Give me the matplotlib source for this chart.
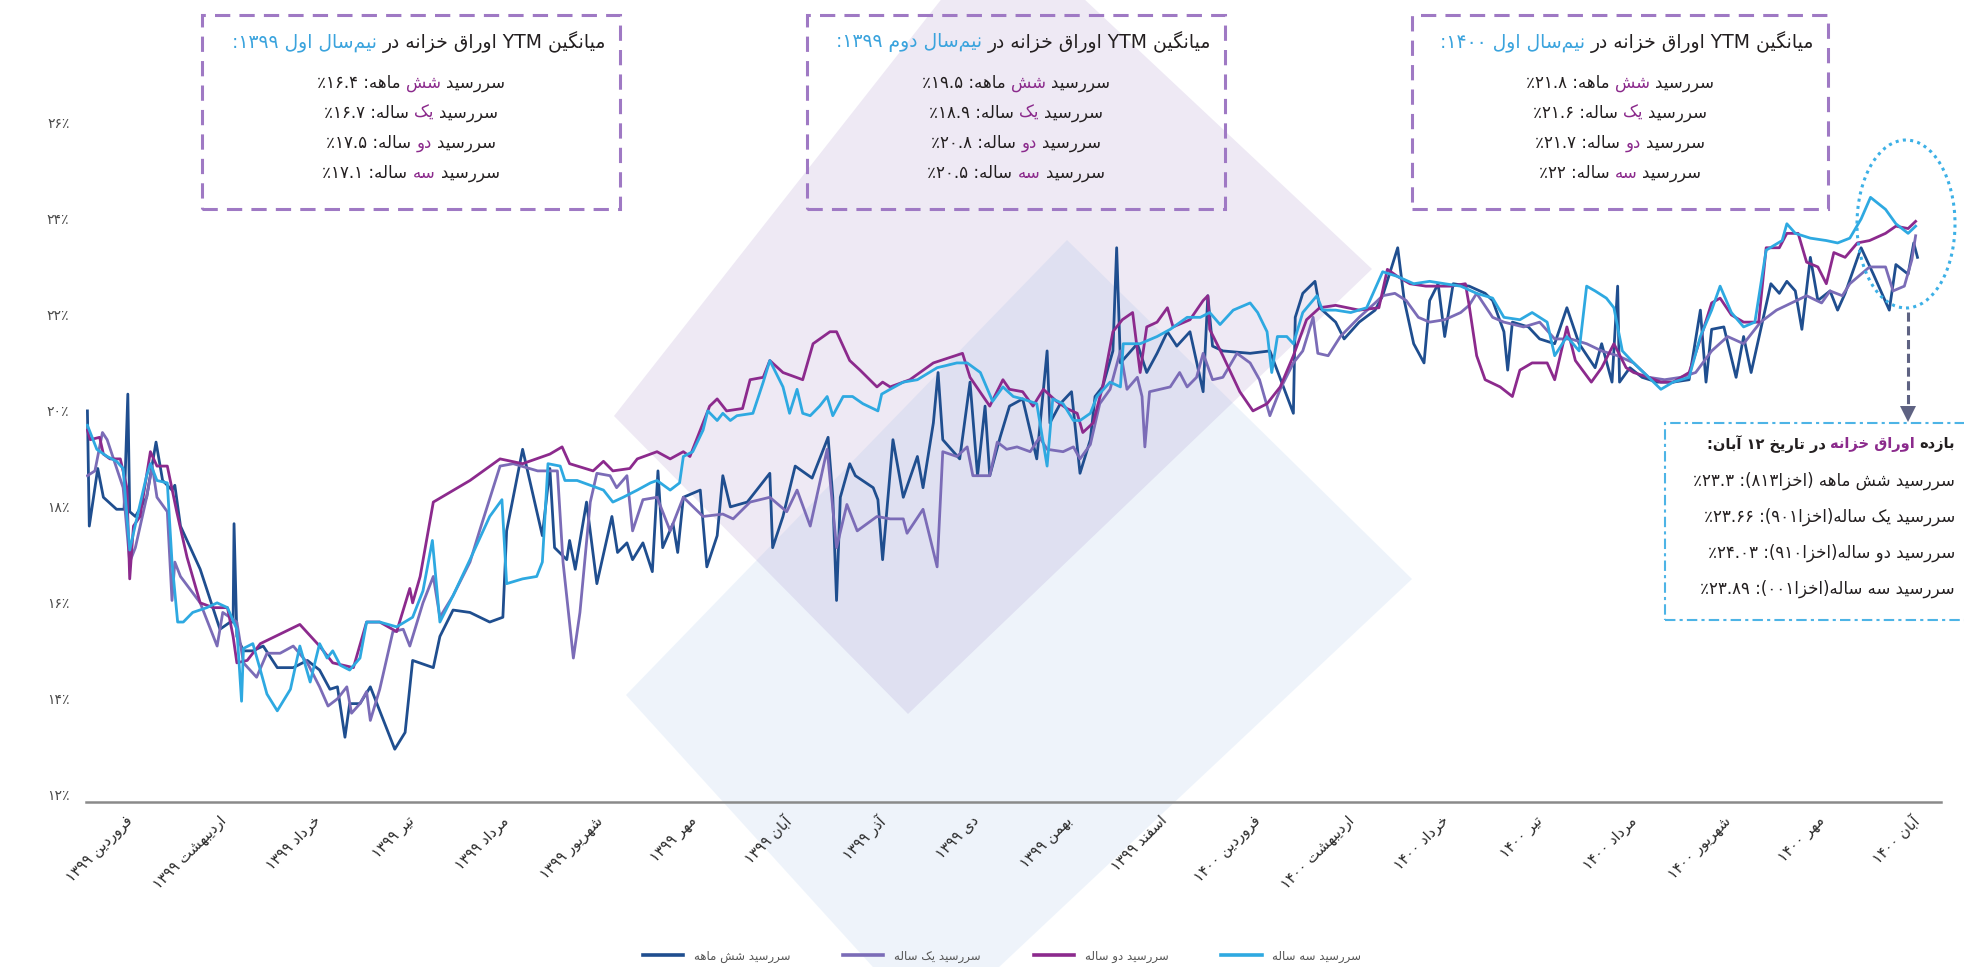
import re
import matplotlib
matplotlib.use('Agg')
import matplotlib.pyplot as plt
from matplotlib.lines import Line2D
from matplotlib.patches import Polygon, Rectangle, Ellipse
from matplotlib.transforms import IdentityTransform

# ---- data (x = month position, 0 = فروردین ۱۳۹۹) ----
month_labels = ['فروردین ۱۳۹۹', 'اردیبهشت ۱۳۹۹', 'خرداد ۱۳۹۹', 'تیر ۱۳۹۹', 'مرداد ۱۳۹۹',
                'شهریور ۱۳۹۹', 'مهر ۱۳۹۹', 'آبان ۱۳۹۹', 'آذر ۱۳۹۹', 'دی ۱۳۹۹', 'بهمن ۱۳۹۹',
                'اسفند ۱۳۹۹', 'فروردین ۱۴۰۰', 'اردیبهشت ۱۴۰۰', 'خرداد ۱۴۰۰', 'تیر ۱۴۰۰',
                'مرداد ۱۴۰۰', 'شهریور ۱۴۰۰', 'مهر ۱۴۰۰', 'آبان ۱۴۰۰']
y_ticks = [12, 14, 16, 18, 20, 22, 24, 26]
series_names = ['سررسید شش ماهه', 'سررسید یک ساله', 'سررسید دو ساله', 'سررسید سه ساله']

# six-month
m6 = [-0.40,-0.38,-0.29,-0.23,-0.09,-0.01,0.03,0.05,0.11,0.23,
      0.33,0.40,0.50,0.53,0.59,0.80,1.01,1.12,1.15,1.16,
      1.19,1.26,1.36,1.47,1.62,1.79,1.94,2.07,2.18,2.26,
      2.34,2.39,2.50,2.61,2.71,2.87,2.98,3.06,3.28,3.35,
      3.49,3.67,3.88,4.02,4.06,4.23,4.44,4.52,4.57,4.70,
      4.73,4.79,4.91,5.02,5.18,5.24,5.34,5.40,5.51,5.61,
      5.67,5.72,5.83,5.88,5.94,6.12,6.19,6.30,6.36,6.44,
      6.62,6.86,6.89,7.00,7.13,7.31,7.48,7.53,7.57,7.61,
      7.71,7.77,7.96,8.01,8.06,8.17,8.28,8.43,8.49,8.60,
      8.65,8.70,8.88,8.99,9.07,9.15,9.20,9.31,9.41,9.55,
      9.70,9.81,9.84,9.95,10.07,10.16,10.27,10.32,10.40,10.51,
      10.55,10.59,10.77,10.87,10.98,11.09,11.19,11.33,11.47,11.52,
      11.57,11.68,11.97,12.18,12.43,12.45,12.53,12.66,12.71,12.88,
      12.97,13.13,13.30,13.38,13.54,13.61,13.71,13.82,13.88,13.97,
      14.04,14.13,14.30,14.47,14.55,14.67,14.71,14.76,14.93,15.05,
      15.21,15.34,15.47,15.64,15.71,15.82,15.88,15.90,16.01,16.14,
      16.30,16.47,16.64,16.76,16.82,16.88,17.01,17.14,17.22,17.30,
      17.43,17.51,17.60,17.68,17.77,17.84,17.93,18.01,18.14,18.22,
      18.30,18.47,18.60,18.77,18.84,18.97,19.03,19.07]
y6 = [20.0,17.6,18.8,18.2,17.95,17.95,20.35,17.9,17.8,18.2,
      19.35,18.55,18.35,18.45,17.6,16.7,15.45,15.6,15.6,17.65,
      15.3,15.0,15.0,15.1,14.65,14.65,14.8,14.6,14.2,14.25,
      13.2,13.9,13.9,14.25,13.75,12.95,13.3,14.8,14.65,15.3,
      15.85,15.8,15.6,15.7,17.5,19.2,17.4,18.8,17.15,16.9,
      17.3,16.7,18.1,16.4,17.8,17.05,17.25,16.9,17.25,16.65,
      18.75,17.15,17.65,17.05,18.2,18.35,16.75,17.4,18.65,18.0,
      18.1,18.7,17.15,17.8,18.85,18.6,19.45,18.2,16.05,18.2,
      18.9,18.65,18.4,18.15,16.9,19.4,18.2,19.05,18.4,19.75,
      20.8,19.4,19.0,20.6,18.65,20.1,18.65,19.45,20.1,20.25,
      19.0,21.25,19.75,20.15,20.4,18.7,19.4,20.3,20.5,21.25,
      23.4,21.0,21.4,20.8,21.2,21.65,21.35,21.65,20.4,22.4,
      21.35,21.25,21.2,21.25,19.95,21.95,22.45,22.7,22.15,21.85,
      21.5,21.85,22.1,22.4,23.4,22.3,21.4,21.0,22.3,22.65,
      21.55,22.65,22.6,22.45,22.3,21.65,20.85,21.85,21.75,21.5,
      21.4,22.15,21.4,20.9,21.4,20.6,22.6,20.6,20.9,20.7,
      20.6,20.6,20.65,22.1,20.6,21.7,21.75,20.7,21.55,20.8,
      21.95,22.65,22.45,22.7,22.5,21.7,23.2,22.3,22.5,22.1,
      22.45,23.4,22.85,22.1,23.05,22.85,23.5,23.2]

# one-year
m1 = [-0.40,-0.32,-0.24,-0.19,-0.02,0.05,0.11,0.23,0.29,0.34,
      0.45,0.50,0.53,0.59,0.80,0.98,1.04,1.19,1.26,1.40,
      1.51,1.65,1.79,1.94,2.07,2.16,2.26,2.36,2.41,2.50,
      2.57,2.61,2.71,2.85,2.96,3.03,3.17,3.28,3.35,3.49,
      3.67,3.78,3.99,4.13,4.39,4.60,4.66,4.77,4.84,4.95,
      5.02,5.16,5.23,5.34,5.40,5.51,5.66,5.80,5.94,6.15,
      6.36,6.47,6.65,6.86,7.04,7.15,7.29,7.47,7.57,7.68,
      7.79,8.00,8.14,8.28,8.32,8.49,8.64,8.70,8.85,8.96,
      9.02,9.20,9.28,9.38,9.49,9.63,9.73,9.81,9.98,10.09,
      10.16,10.27,10.37,10.48,10.59,10.66,10.77,10.82,10.85,10.90,
      11.01,11.12,11.22,11.30,11.40,11.47,11.57,11.68,11.83,11.97,
      12.07,12.18,12.29,12.43,12.53,12.64,12.69,12.80,12.93,13.13,
      13.30,13.38,13.51,13.63,13.76,13.88,14.04,14.21,14.30,14.38,
      14.55,14.67,14.88,15.05,15.21,15.38,15.55,15.71,15.88,16.05,
      16.21,16.38,16.55,16.71,16.88,17.05,17.22,17.40,17.57,17.73,
      17.89,18.05,18.14,18.27,18.35,18.56,18.73,18.81,18.93,19.01,
      19.05]
y1 = [18.65,18.75,19.55,19.4,18.4,16.85,17.15,18.2,18.85,18.2,
      17.9,16.05,16.85,16.55,16.0,15.1,15.8,15.6,14.75,14.45,
      14.95,14.95,15.1,14.75,14.25,13.85,14.0,14.25,13.7,13.9,
      14.15,13.55,14.2,15.4,15.45,15.1,16.0,16.55,15.7,16.15,
      16.85,17.55,18.85,18.9,18.75,18.75,16.85,14.85,15.8,18.1,
      18.7,18.65,18.4,18.65,17.5,18.15,18.2,17.5,18.2,17.8,
      17.85,17.75,18.1,18.2,17.9,18.35,17.6,19.2,17.15,18.05,
      17.5,17.8,17.75,17.75,17.45,17.95,16.75,19.15,19.05,19.25,
      18.65,18.65,19.35,19.2,19.25,19.15,19.45,19.2,19.15,19.25,
      19.0,19.3,20.15,20.45,21.25,20.45,20.7,20.3,19.25,20.4,
      20.45,20.5,20.8,20.5,20.7,21.2,20.65,20.7,21.2,21.0,
      20.65,19.9,20.45,21.0,21.25,21.95,21.2,21.15,21.55,21.95,
      22.25,22.4,22.45,22.3,21.95,21.85,21.9,22.05,22.2,22.45,
      21.95,21.85,21.75,21.85,21.5,21.5,21.4,21.25,21.15,21.0,
      20.7,20.65,20.7,20.8,21.25,21.55,21.4,21.85,22.1,22.25,
      22.4,22.25,22.5,22.4,22.65,23.0,23.0,22.5,22.6,23.15,
      23.65]

# two-year
m2 = [-0.40,-0.37,-0.27,-0.23,-0.16,-0.05,0.02,0.05,0.09,0.16,
      0.27,0.34,0.45,0.55,0.66,0.80,0.94,1.09,1.15,1.19,
      1.30,1.44,1.65,1.86,2.07,2.21,2.43,2.57,2.71,2.89,
      3.03,3.06,3.14,3.28,3.67,3.99,4.23,4.52,4.65,4.73,
      4.98,5.09,5.19,5.37,5.45,5.66,5.80,5.94,6.01,6.12,
      6.22,6.30,6.40,6.57,6.65,6.79,6.86,7.00,7.21,7.32,
      7.50,7.57,7.71,7.82,8.00,8.06,8.14,8.35,8.60,8.91,
      8.99,9.20,9.34,9.41,9.55,9.66,9.77,9.91,10.02,10.13,
      10.19,10.30,10.40,10.51,10.61,10.72,10.80,10.87,10.98,11.09,
      11.15,11.33,11.47,11.52,11.54,11.68,11.86,12.00,12.15,12.29,
      12.43,12.57,12.71,12.88,13.13,13.34,13.43,13.54,13.67,13.84,
      14.10,14.26,14.30,14.38,14.47,14.63,14.76,14.84,14.97,15.13,
      15.21,15.34,15.43,15.60,15.71,15.84,15.97,16.05,16.21,16.34,
      16.47,16.64,16.76,16.88,16.97,17.09,17.22,17.38,17.46,17.60,
      17.68,17.80,17.89,18.01,18.10,18.18,18.30,18.43,18.56,18.73,
      18.84,18.97,19.05]
y2 = [19.6,19.4,19.45,19.1,19.0,19.0,18.4,16.5,17.6,17.8,
      19.15,18.85,18.85,17.9,16.95,16.0,15.9,15.9,15.3,14.75,
      14.8,15.15,15.35,15.55,15.1,14.75,14.65,15.6,15.6,15.4,
      16.3,16.0,16.55,18.1,18.55,19.0,18.9,19.1,19.25,18.9,
      18.75,18.95,18.75,18.8,19.0,19.15,19.0,19.15,19.05,19.6,
      20.1,20.25,20.0,20.05,20.65,20.7,21.05,20.8,20.65,21.4,
      21.65,21.65,21.05,20.85,20.5,20.6,20.5,20.65,21.0,21.2,
      20.7,20.1,20.65,20.45,20.4,20.1,20.45,20.2,20.05,19.95,
      19.55,19.75,20.5,21.65,21.9,22.05,20.8,21.75,21.85,22.15,
      21.75,21.9,22.3,22.4,21.7,21.15,20.4,20.0,20.15,20.5,
      21.15,21.9,22.15,22.2,22.1,22.15,22.95,22.8,22.65,22.6,
      22.6,22.65,22.2,21.15,20.65,20.5,20.3,20.85,21.0,21.0,
      20.65,21.75,21.05,20.6,20.9,21.4,20.9,20.8,20.7,20.6,
      20.6,20.8,21.5,22.25,22.35,22.0,21.85,21.85,23.4,23.4,
      23.7,23.7,23.1,23.0,22.65,23.3,23.2,23.5,23.55,23.7,
      23.85,23.8,23.95]

# three-year
m3 = [-0.40,-0.30,-0.19,-0.09,-0.02,0.05,0.13,0.23,0.27,0.34,
      0.45,0.50,0.56,0.62,0.72,0.87,0.98,1.09,1.19,1.24,
      1.26,1.36,1.44,1.51,1.62,1.76,1.86,1.97,2.07,2.15,
      2.21,2.29,2.39,2.50,2.57,2.71,2.89,3.06,3.17,3.27,
      3.32,3.35,3.49,3.67,3.88,4.01,4.06,4.23,4.38,4.44,
      4.50,4.63,4.68,4.81,5.02,5.09,5.19,5.30,5.45,5.59,
      5.66,5.80,5.90,5.94,6.04,6.15,6.20,6.30,6.36,6.44,
      6.51,6.68,6.79,6.86,7.00,7.07,7.15,7.21,7.29,7.39,
      7.47,7.53,7.64,7.74,7.85,8.01,8.05,8.14,8.28,8.43,
      8.64,8.85,8.96,9.10,9.23,9.34,9.45,9.55,9.70,9.81,
      9.87,9.98,10.09,10.16,10.27,10.34,10.48,10.59,10.62,10.80,
      10.98,11.12,11.30,11.44,11.54,11.65,11.79,11.97,12.05,12.15,
      12.20,12.26,12.36,12.43,12.53,12.68,12.74,12.88,13.04,13.21,
      13.38,13.54,13.71,13.88,14.04,14.21,14.38,14.55,14.67,14.84,
      14.97,15.13,15.21,15.34,15.47,15.55,15.64,15.76,15.84,15.93,
      16.05,16.21,16.34,16.47,16.64,16.76,16.88,16.97,17.09,17.22,
      17.34,17.46,17.63,17.68,17.77,17.93,18.10,18.22,18.35,18.47,
      18.57,18.73,18.84,18.97,19.05]
y3 = [19.7,19.2,19.05,18.95,18.8,17.1,17.8,18.65,18.9,18.55,
      18.5,16.85,15.6,15.6,15.8,15.9,16.0,15.9,15.45,13.95,
      15.05,15.15,14.6,14.1,13.75,14.2,15.1,14.35,15.15,14.85,
      15.0,14.7,14.6,14.85,15.6,15.6,15.5,15.7,16.25,17.3,
      16.25,15.6,16.15,16.9,17.8,18.15,16.4,16.5,16.55,16.85,
      18.9,18.85,18.55,18.55,18.4,18.35,18.1,18.2,18.35,18.5,
      18.55,18.35,18.5,19.05,19.15,19.6,20.0,19.8,19.95,19.8,
      19.9,19.95,20.6,21.05,20.5,19.95,20.45,19.95,19.9,20.1,
      20.3,19.9,20.3,20.3,20.15,20.0,20.35,20.45,20.6,20.65,
      20.9,21.0,21.0,20.8,20.2,20.5,20.3,20.25,20.15,18.85,
      20.25,20.15,19.8,19.8,19.95,20.3,20.6,20.5,21.4,21.4,
      21.55,21.7,21.95,21.95,22.05,21.8,22.1,22.25,22.05,21.65,
      20.8,21.55,21.55,21.4,22.05,22.4,22.1,22.1,22.05,22.15,
      22.9,22.8,22.65,22.7,22.65,22.6,22.45,22.35,21.95,21.9,
      22.05,21.85,21.15,21.55,21.25,22.6,22.5,22.35,22.15,21.25,
      21.0,20.7,20.45,20.6,20.7,21.55,22.1,22.6,22.05,21.75,
      21.85,23.35,23.55,23.9,23.7,23.6,23.55,23.5,23.6,24.0,
      24.45,24.2,23.9,23.7,23.85]

# box figures
avg_h1_1399 = [16.4, 16.7, 17.5, 17.1]
avg_h2_1399 = [19.5, 18.9, 20.8, 20.5]
avg_h1_1400 = [21.8, 21.6, 21.7, 22]
spot_12_aban = [23.3, 23.66, 24.03, 23.89]
spot_codes = ['۸۱۳', '۹۰۱', '۹۱۰', '۰۰۱']

# ---- simple Persian shaping / visual ordering ----
DUAL = {'ب': 0xFE8F, 'پ': 0xFB56, 'ت': 0xFE95, 'ث': 0xFE99, 'ج': 0xFE9D, 'چ': 0xFB7A,
        'ح': 0xFEA1, 'خ': 0xFEA5, 'س': 0xFEB1, 'ش': 0xFEB5, 'ص': 0xFEB9, 'ض': 0xFEBD,
        'ط': 0xFEC1, 'ظ': 0xFEC5, 'ع': 0xFEC9, 'غ': 0xFECD, 'ف': 0xFED1, 'ق': 0xFED5,
        'ک': 0xFB8E, 'گ': 0xFB92, 'ل': 0xFEDD, 'م': 0xFEE1, 'ن': 0xFEE5, 'ه': 0xFEE9,
        'ی': 0xFBFC}
RIGHT = {'ا': 0xFE8D, 'آ': 0xFE81, 'د': 0xFEA9, 'ذ': 0xFEAB, 'ر': 0xFEAD, 'ز': 0xFEAF,
         'ژ': 0xFB8A, 'و': 0xFEED}
LTR = re.compile(r'[A-Za-z0-9۰-۹]+(?:\.[0-9۰-۹]+)*')
MIRROR = {'(': ')', ')': '('}


def shape(s):
    out = []
    for i, ch in enumerate(s):
        base = DUAL.get(ch, RIGHT.get(ch))
        if base is None:
            out.append(ch)
            continue
        p = s[i - 1] if i else ''
        n = s[i + 1] if i + 1 < len(s) else ''
        jp = p in DUAL
        jn = ch in DUAL and (n in DUAL or n in RIGHT)
        k = 3 if (jp and jn) else 1 if jp else 2 if jn else 0
        out.append(chr(base + k))
    return ''.join(out).replace('\u200c', '')


def visual(s):
    s = shape(s)
    parts, pos = [], 0
    for m in LTR.finditer(s):
        if m.start() > pos:
            parts.append(('r', s[pos:m.start()]))
        parts.append(('l', m.group()))
        pos = m.end()
    if pos < len(s):
        parts.append(('r', s[pos:]))
    res = ''
    for kind, p in reversed(parts):
        if kind == 'r':
            p = ''.join(MIRROR.get(c, c) for c in reversed(p))
        res += p
    return res


def fa(v):
    return '{:g}'.format(v).translate(str.maketrans('0123456789', '۰۱۲۳۴۵۶۷۸۹'))


# ---- figure ----
W, H = 1964, 967
plt.rcParams['font.family'] = ['DejaVu Sans']
fig = plt.figure(figsize=(W / 100, H / 100), dpi=100)
PIX = IdentityTransform()

DARK = '#231f20'
MAG = '#8b2a8c'
SKY = '#3aa3dd'
BOXC = '#9f79c4'

# decorative background shapes
fig.add_artist(Polygon([(614, H - 416), (1002, H + 78), (1372, H - 269), (908, H - 714)],
                       closed=True, fc='#9b7fc0', alpha=0.17, ec='none', transform=PIX, zorder=-2))
fig.add_artist(Polygon([(626, H - 695), (1067, H - 240), (1412, H - 579), (931, H - 1031)],
                       closed=True, fc='#7fa8e0', alpha=0.13, ec='none', transform=PIX, zorder=-1))

ax = fig.add_axes([86 / W, 1 - 802 / H, (1941 - 86) / W, (802 - 75) / H])
ax.patch.set_alpha(0)

colors = ['#1f4e8f', '#7b6cb7', '#8c2a8d', '#2ea9e1']
for xs, ys, c in zip([m6, m1, m2, m3], [y6, y1, y2, y3], colors):
    ax.plot(xs, ys, color=c, lw=2.0, solid_joinstyle='round', zorder=2)

ax.set_xlim(-0.415, 19.32)
ax.set_ylim(11.85, 27)
ax.set_yticks(y_ticks)
ax.set_yticklabels([fa(v) + '٪' for v in y_ticks])
ax.tick_params(axis='y', length=0, pad=12, labelsize=10, labelcolor='#4a4a4a')
ax.set_xticks(range(len(month_labels)))
ax.set_xticklabels([visual(m) for m in month_labels], rotation=45, ha='right',
                   rotation_mode='anchor')
ax.tick_params(axis='x', length=0, pad=8, labelsize=10.5, labelcolor='#2a2a2a')
for s in ['top', 'right', 'left']:
    ax.spines[s].set_visible(False)
ax.spines['bottom'].set_color('#8a8a8a')
ax.spines['bottom'].set_linewidth(1.8)

handles = [Line2D([], [], color=c, lw=2.6) for c in colors]
fig.legend(handles, [visual(n) for n in series_names], loc='center',
           bbox_to_anchor=(1002 / W, 1 - 956 / H), ncol=4, frameon=False, fontsize=8.5,
           handlelength=3.4, handletextpad=0.9, columnspacing=4.5, labelcolor='#555555')

renderer = fig.canvas.get_renderer()


def rich(x, y, segs, size, align='center', weight='normal'):
    vis = [(visual(t), c) for t, c in reversed(segs)]
    arts = [fig.text(0, 0, t, color=c, fontsize=size, fontweight=weight, ha='left',
                     va='center', transform=PIX, zorder=6) for t, c in vis]
    ws = [a.get_window_extent(renderer).width for a in arts]
    sp = size * 100 / 72 * 0.318
    total = sum(ws) + sp * (len(arts) - 1)
    x0 = {'center': x - total / 2, 'right': x - total, 'left': x}[align]
    for a, w in zip(arts, ws):
        a.set_position((x0, H - y))
        x0 += w + sp


def box(x0, y0, x1, y1, color, ls, lw):
    fig.add_artist(Rectangle((x0, H - y1), x1 - x0, y1 - y0, fill=False, ec=color, lw=lw,
                             ls=ls, transform=PIX, zorder=5))


# top summary boxes
periods = [('نیم‌سال اول ۱۳۹۹:', avg_h1_1399, 202, 620),
           ('نیم‌سال دوم ۱۳۹۹:', avg_h2_1399, 807, 1225),
           ('نیم‌سال اول ۱۴۰۰:', avg_h1_1400, 1412, 1828)]
terms = [('شش', 'ماهه'), ('یک', 'ساله'), ('دو', 'ساله'), ('سه', 'ساله')]
for label, vals, bx0, bx1 in periods:
    top = 15
    box(bx0, top, bx1, 209, BOXC, (0, (5, 3)), 2.2)
    rich(bx1 - 14, top + 27, [('میانگین YTM اوراق خزانه در', DARK), (label, SKY)], 13.5,
         align='right')
    for k, ((w1, w2), v) in enumerate(zip(terms, vals)):
        rich((bx0 + bx1) / 2, top + 68 + 30 * k,
             [('سررسید', DARK), (w1, MAG), (w2 + ': ' + fa(v) + '٪', DARK)], 12)

# spot yield box
box(1665, 423, 1968, 620, '#4db4e6', (0, (5, 2, 1.5, 2)), 1.5)
rich(1955, 444, [('بازده', DARK), ('اوراق خزانه', MAG), ('در تاریخ ۱۲ آبان:', DARK)], 10.5,
     align='right', weight='bold')
spot_terms = ['شش ماهه ', 'یک ساله', 'دو ساله', 'سه ساله']
for k, (t, code, v) in enumerate(zip(spot_terms, spot_codes, spot_12_aban)):
    rich(1955, 481 + 36 * k,
         [('سررسید ' + t + '(اخزا' + code + '): ' + fa(v) + '٪', DARK)], 12, align='right')

# highlight of the last observation
fig.add_artist(Ellipse((1906, H - 224), 98, 168, fill=False, ec='#3cb0e6', lw=2.2,
                       ls=(0, (1, 1.4)), transform=PIX, zorder=5))
fig.add_artist(Line2D([1908, 1908], [H - 312, H - 408], color='#5e6282', lw=2.2,
                      ls=(0, (3, 1.5)), transform=PIX, zorder=5))
fig.add_artist(Polygon([(1900, H - 406), (1916, H - 406), (1908, H - 422)], closed=True,
                       fc='#5e6282', ec='none', transform=PIX, zorder=5))

fig.savefig('out.png', dpi=100)
